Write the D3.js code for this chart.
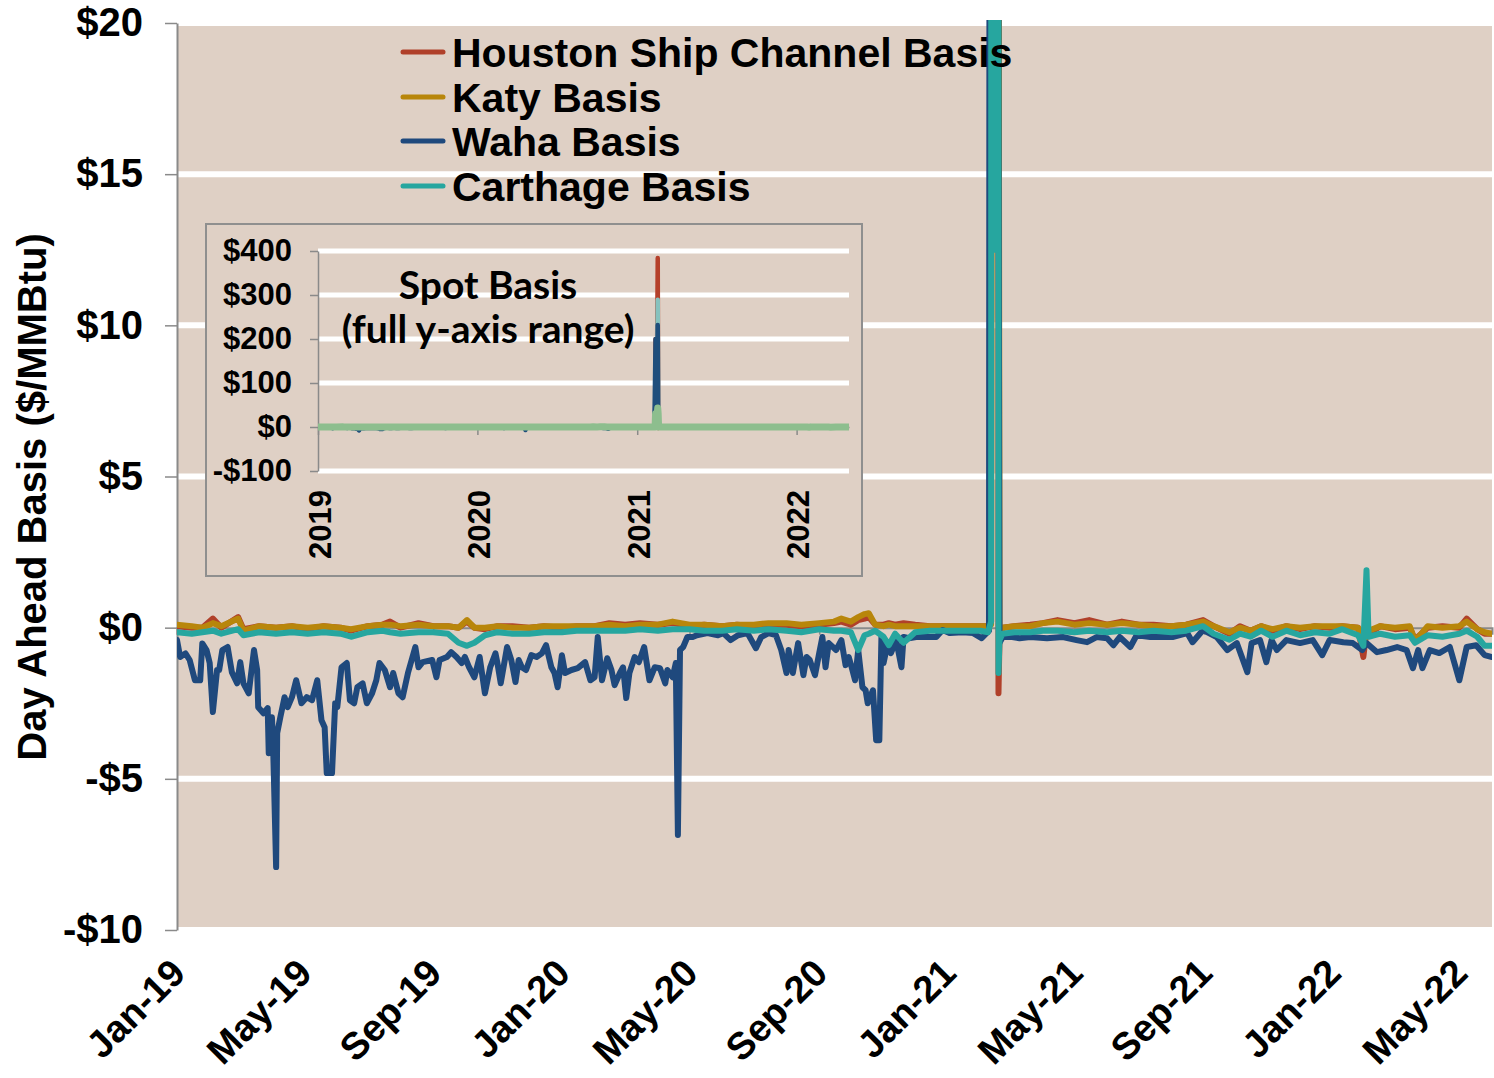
<!DOCTYPE html>
<html>
<head>
<meta charset="utf-8">
<script src="https://cdn.jsdelivr.net/npm/d3@7"></script>
<style>
  html, body { margin: 0; padding: 0; background: #ffffff; }
  svg { display: block; }
</style>
</head>
<body>
<svg id="chart" width="1494" height="1078"></svg>
<script>
// ---------------- DATA ----------------
const seriesNames = ["Houston Ship Channel Basis", "Katy Basis", "Waha Basis", "Carthage Basis"];
const yTicksMain = [-10, -5, 0, 5, 10, 15, 20];
const yTicksInset = [-100, 0, 100, 200, 300, 400];
const xTickDates = ["2019-01-01","2019-05-01","2019-09-01","2020-01-01","2020-05-01","2020-09-01",
                    "2021-01-01","2021-05-01","2021-09-01","2022-01-01","2022-05-01"];
const insetYearTicks = ["2019-01-01","2020-01-01","2021-01-01","2022-01-01"];

const wahaDates = [
"2019-01-01","2019-01-04","2019-01-09","2019-01-13","2019-01-18","2019-01-23","2019-01-25","2019-01-29",
"2019-02-01","2019-02-04","2019-02-08","2019-02-10","2019-02-13","2019-02-18","2019-02-22","2019-02-27",
"2019-03-02","2019-03-05","2019-03-10","2019-03-15","2019-03-18","2019-03-19","2019-03-24","2019-03-28",
"2019-03-29","2019-04-01","2019-04-02","2019-04-05","2019-04-06","2019-04-09","2019-04-13","2019-04-16",
"2019-04-20","2019-04-24","2019-04-29","2019-05-04","2019-05-09","2019-05-14","2019-05-18","2019-05-21",
"2019-05-23","2019-05-28","2019-05-31","2019-06-02","2019-06-06","2019-06-11","2019-06-14","2019-06-18",
"2019-06-21","2019-06-26","2019-06-30","2019-07-05","2019-07-09","2019-07-12","2019-07-17","2019-07-22",
"2019-07-25","2019-07-30","2019-08-03","2019-08-08","2019-08-15","2019-08-18","2019-08-22","2019-08-31",
"2019-09-04","2019-09-07","2019-09-14","2019-09-18","2019-09-23","2019-09-28","2019-10-01","2019-10-05",
"2019-10-10","2019-10-15","2019-10-20","2019-10-25","2019-10-30","2019-11-01","2019-11-04","2019-11-10",
"2019-11-14","2019-11-18","2019-11-21","2019-11-24","2019-11-28","2019-12-03","2019-12-08","2019-12-13",
"2019-12-17","2019-12-22","2019-12-25","2019-12-28","2020-01-01","2020-01-04","2020-01-10","2020-01-16",
"2020-01-23","2020-01-28","2020-02-01","2020-02-04","2020-02-08","2020-02-13","2020-02-17","2020-02-20",
"2020-02-25","2020-02-28","2020-03-02","2020-03-05","2020-03-10","2020-03-14","2020-03-19","2020-03-24",
"2020-03-29","2020-04-03","2020-04-08","2020-04-10","2020-04-15","2020-04-18","2020-04-20","2020-04-22",
"2020-04-25","2020-04-29","2020-05-04","2020-05-08","2020-05-18","2020-05-28","2020-06-02","2020-06-09",
"2020-06-16","2020-06-25","2020-07-03","2020-07-08","2020-07-15","2020-07-22","2020-07-27","2020-08-01",
"2020-08-03","2020-08-07","2020-08-12","2020-08-17","2020-08-20","2020-08-23","2020-08-28","2020-09-01",
"2020-09-04","2020-09-07","2020-09-10","2020-09-17","2020-09-22","2020-09-26","2020-09-29","2020-10-02",
"2020-10-05","2020-10-08","2020-10-12","2020-10-15","2020-10-17","2020-10-22","2020-10-25","2020-10-28",
"2020-10-30","2020-11-01","2020-11-05","2020-11-08","2020-11-13","2020-11-18","2020-11-20","2020-11-25",
"2020-12-02","2020-12-14","2020-12-21","2020-12-27","2021-01-03","2021-01-15","2021-01-25","2021-02-02",
"2021-02-09","2021-02-10","2021-02-12","2021-02-15","2021-02-17","2021-02-18","2021-02-19","2021-02-22",
"2021-03-03","2021-03-10","2021-03-20","2021-04-05","2021-04-20","2021-05-03","2021-05-13","2021-05-22",
"2021-06-01","2021-06-07","2021-06-13","2021-06-23","2021-06-29","2021-07-12","2021-07-21","2021-08-02",
"2021-08-16","2021-08-21","2021-08-31","2021-09-13","2021-09-23","2021-10-02","2021-10-12","2021-10-16",
"2021-10-24","2021-10-30","2021-11-04","2021-11-09","2021-11-18","2021-12-01","2021-12-13","2021-12-22",
"2021-12-29","2022-01-11","2022-01-20","2022-01-29","2022-02-02","2022-02-12","2022-02-21","2022-03-03",
"2022-03-12","2022-03-18","2022-03-23","2022-03-27","2022-04-03","2022-04-12","2022-04-22","2022-05-01",
"2022-05-08","2022-05-17","2022-05-25","2022-06-01"];
const wahaValues = [
-0.41,-0.97,-0.85,-1.07,-1.74,-1.74,-0.52,-0.74,
-1.17,-2.79,-1.40,-1.40,-0.74,-0.64,-1.47,-1.84,
-1.14,-1.84,-2.17,-0.74,-1.40,-2.63,-2.83,-2.66,
-4.15,-2.96,-3.72,-7.92,-3.49,-2.96,-2.30,-2.63,
-2.30,-1.74,-2.50,-2.30,-2.40,-1.74,-3.06,-3.29,
-4.81,-4.81,-2.50,-2.63,-1.31,-1.17,-2.40,-2.50,
-1.97,-1.84,-2.50,-2.17,-1.74,-1.17,-1.40,-1.97,
-1.50,-2.17,-2.30,-1.50,-0.64,-1.31,-1.14,-1.07,
-1.64,-1.07,-0.97,-0.81,-0.97,-1.17,-0.97,-1.31,
-1.64,-0.97,-2.17,-1.31,-0.85,-1.20,-1.84,-0.64,
-1.07,-1.80,-1.07,-1.31,-1.40,-0.91,-0.97,-0.85,
-0.58,-1.31,-1.50,-1.97,-0.91,-1.50,-1.40,-1.34,
-1.14,-1.74,-1.64,-0.31,-1.74,-1.01,-1.40,-1.90,
-1.50,-1.31,-2.33,-1.50,-0.97,-1.14,-0.64,-1.74,
-1.31,-1.34,-1.84,-1.40,-1.64,-1.17,-6.86,-0.74,
-0.64,-0.31,-0.31,-0.25,-0.18,-0.25,-0.18,-0.41,
-0.25,-0.18,-0.68,-0.31,-0.18,-0.25,-0.74,-1.50,
-0.74,-1.50,-0.51,-1.57,-0.97,-1.07,-1.57,-0.84,
-0.31,-1.31,-0.51,-0.74,-0.41,-1.24,-0.97,-1.34,
-1.74,-0.74,-1.97,-2.07,-2.50,-2.07,-3.72,-3.72,
-0.31,-1.17,-0.51,-0.84,-0.41,-1.31,-0.31,-0.35,
-0.31,-0.31,-0.31,-0.08,-0.18,-0.15,-0.18,-0.35,
-0.10,50,200,30,232,18,-0.50,-0.31,
-0.31,-0.35,-0.31,-0.35,-0.31,-0.41,-0.48,-0.31,
-0.35,-0.58,-0.31,-0.64,-0.25,-0.31,-0.31,-0.31,
-0.18,-0.48,-0.08,-0.31,-0.74,-0.51,-1.47,-0.51,
-0.41,-1.14,-0.41,-0.74,-0.41,-0.51,-0.41,-0.91,
-0.41,-0.48,-0.51,-0.74,-0.51,-0.81,-0.74,-0.64,
-0.74,-1.34,-0.74,-1.34,-0.74,-0.84,-0.64,-1.74,
-0.64,-0.58,-0.91,-0.97];

const baseDates = [
"2019-01-01","2019-01-15","2019-01-25","2019-02-04","2019-02-12","2019-02-28","2019-03-05","2019-03-20",
"2019-04-05","2019-04-20","2019-05-05","2019-05-20","2019-06-05","2019-06-15","2019-07-01","2019-07-15",
"2019-07-22","2019-08-01","2019-08-18","2019-09-01","2019-09-15","2019-09-25","2019-10-03","2019-10-10",
"2019-10-20","2019-11-01","2019-11-15","2019-12-01","2019-12-15","2020-01-01","2020-01-15","2020-02-01",
"2020-02-15","2020-03-01","2020-03-15","2020-04-01","2020-04-15","2020-05-01","2020-05-15","2020-06-01",
"2020-06-15","2020-07-01","2020-07-15","2020-08-01","2020-08-15","2020-09-01","2020-09-15","2020-09-22",
"2020-10-01","2020-10-08","2020-10-14","2020-10-18","2020-10-24","2020-11-01","2020-11-06","2020-11-12",
"2020-11-20","2020-12-01","2020-12-15","2021-01-01","2021-01-15","2021-02-01","2021-02-08","2021-02-11",
"2021-02-12","2021-02-15","2021-02-17","2021-02-18","2021-02-19","2021-02-22","2021-03-05","2021-03-20",
"2021-04-01","2021-04-15","2021-05-01","2021-05-15","2021-06-01","2021-06-15","2021-07-01","2021-07-15",
"2021-08-01","2021-08-15","2021-08-31","2021-09-10","2021-09-25","2021-10-05","2021-10-15","2021-10-25",
"2021-11-05","2021-11-18","2021-12-01","2021-12-15","2021-12-29","2022-01-10","2022-01-25","2022-01-30",
"2022-02-02","2022-02-04","2022-02-15","2022-03-01","2022-03-15","2022-03-20","2022-04-01","2022-04-15",
"2022-05-01","2022-05-08","2022-05-18","2022-05-25","2022-06-01"];
const hscValues = [
0.05,0.00,0.00,0.30,0.00,0.35,-0.05,0.05,
0.00,0.05,-0.05,0.05,0.00,-0.10,0.05,0.10,
0.20,0.00,0.15,0.05,0.05,0.00,0.20,0.00,
-0.05,0.05,0.05,0.00,0.05,0.00,0.05,0.05,
0.15,0.10,0.15,0.10,0.15,0.05,0.10,0.05,
0.10,0.05,0.10,0.10,0.05,0.10,0.15,0.20,
0.10,0.25,0.30,0.35,0.10,0.10,0.15,0.10,
0.15,0.10,0.05,0.05,0.05,0.05,0.05,0.20,
200,100,384,-2.17,-0.30,0.00,0.05,0.10,
0.15,0.25,0.15,0.25,0.10,0.20,0.10,0.10,
0.05,0.10,0.25,0.05,-0.20,0.05,-0.10,0.05,
-0.10,0.05,-0.05,0.05,0.00,0.05,0.00,-0.97,
-0.10,-0.20,0.05,-0.05,0.00,-0.40,0.00,0.05,
0.00,0.30,-0.05,-0.20,-0.20];
const katyValues = [
0.10,0.05,0.00,0.15,0.05,0.30,-0.10,0.05,
0.00,0.05,0.00,0.05,0.00,-0.05,0.05,0.10,
0.10,0.05,0.10,0.05,0.05,0.00,0.25,0.00,
0.00,0.05,0.00,0.00,0.05,0.05,0.05,0.05,
0.10,0.05,0.10,0.10,0.20,0.10,0.10,0.05,
0.10,0.10,0.15,0.15,0.10,0.15,0.20,0.30,
0.20,0.35,0.45,0.48,0.10,0.05,0.10,0.05,
0.05,0.05,0.05,0.05,0.05,0.05,0.05,0.10,
30,20,43,30,-0.20,0.00,0.05,0.05,
0.15,0.20,0.10,0.15,0.10,0.15,0.10,0.05,
0.05,0.10,0.20,0.05,-0.15,0.00,-0.10,0.05,
-0.05,0.05,0.00,0.05,0.05,0.05,0.00,-0.60,
-0.10,-0.10,0.05,0.00,0.05,-0.45,0.05,0.00,
0.05,0.20,-0.05,-0.15,-0.20];
const carthageValues = [
-0.15,-0.20,-0.15,-0.10,-0.20,-0.05,-0.25,-0.15,
-0.20,-0.15,-0.20,-0.15,-0.20,-0.30,-0.15,-0.10,
-0.15,-0.20,-0.15,-0.15,-0.20,-0.50,-0.60,-0.50,
-0.25,-0.15,-0.20,-0.20,-0.15,-0.15,-0.10,-0.10,
-0.10,-0.10,-0.05,-0.10,-0.05,-0.05,-0.10,-0.10,
-0.05,-0.10,-0.05,-0.10,-0.15,-0.05,-0.10,-0.10,
-0.15,-0.74,-0.25,-0.20,-0.10,-0.30,-0.58,-0.20,
-0.50,-0.15,-0.10,-0.10,-0.10,-0.10,-0.15,0.20,
150,12.5,289,-1.50,-0.40,-0.20,-0.15,-0.15,
-0.10,-0.10,-0.15,-0.10,-0.15,-0.10,-0.15,-0.10,
-0.15,-0.10,0.05,-0.20,-0.40,-0.20,-0.30,-0.10,
-0.30,-0.10,-0.25,-0.15,-0.20,-0.05,-0.25,-0.60,
1.90,-0.30,-0.20,-0.30,-0.25,-0.50,-0.25,-0.30,
-0.20,-0.10,-0.30,-0.60,-0.60];

// ---------------- SETUP ----------------
const parse = d3.timeParse("%Y-%m-%d");
const svg = d3.select("#chart");
const plot = {left: 177, right: 1492, top: 23, bottom: 930};
const BG = "#DFD0C5";
const AXIS = "#8a8a8a";
const ARIAL = '"Liberation Sans", Arial, sans-serif';
const CALIBRI = 'Lato, "Open Sans", sans-serif';
const colors = {hsc: "#B0402A", katy: "#B8860B", waha: "#1F497D", carthage: "#26A69F"};
const insetColors = {hsc: "#B5402A", katy: "#8DBE8E", waha: "#1F4E7C", carthage: "#86C2BE"};

const mk = (dates, vals) => dates.map((d, i) => ({date: parse(d), value: vals[i]}));
const series = [
  {key: "hsc", data: mk(baseDates, hscValues)},
  {key: "katy", data: mk(baseDates, katyValues)},
  {key: "waha", data: mk(wahaDates, wahaValues)},
  {key: "carthage", data: mk(baseDates, carthageValues)}
];

const boldText = sel => sel.style("font-family", ARIAL).style("font-weight", "bold").style("fill", "#000");

const x = d3.scaleTime().domain([parse("2019-01-01"), parse("2022-06-01")]).range([plot.left, plot.right]);
const y = d3.scaleLinear().domain([-10, 20]).range([plot.bottom, plot.top]);

// plot background
svg.append("rect").attr("x", plot.left).attr("y", plot.top)
  .attr("width", plot.right - plot.left).attr("height", plot.bottom - plot.top).attr("fill", BG);

// gridlines
svg.append("g").selectAll("line").data(yTicksMain.filter(v => v !== 0)).join("line")
  .attr("x1", plot.left).attr("x2", plot.right)
  .attr("y1", d => y(d)).attr("y2", d => y(d))
  .attr("stroke", "#ffffff").attr("stroke-width", 6);

// zero axis with ticks
const xAxis = d3.axisBottom(x).tickValues(xTickDates.map(parse)).tickSize(7).tickFormat("");
const gx = svg.append("g").attr("transform", `translate(0,${y(0)})`).call(xAxis);
gx.select(".domain").attr("stroke", AXIS).attr("stroke-width", 2);
gx.selectAll(".tick line").attr("stroke", AXIS).attr("stroke-width", 1.5);

// y axis
const yAxis = d3.axisLeft(y).tickValues(yTicksMain).tickSize(12).tickSizeOuter(0)
  .tickFormat(v => (v < 0 ? "-$" : "$") + Math.abs(v));
const gy = svg.append("g").attr("transform", `translate(${plot.left},0)`).call(yAxis);
gy.select(".domain").attr("stroke", AXIS).attr("stroke-width", 2);
gy.selectAll(".tick line").attr("stroke", AXIS).attr("stroke-width", 1.5);
gy.selectAll(".tick text").attr("x", -34).style("font-size", "40px").call(boldText);

// x labels (rotated)
svg.append("g").selectAll("text").data(xTickDates.map(parse)).join("text")
  .attr("transform", d => `translate(${x(d) + 1},${966}) rotate(-45)`)
  .attr("text-anchor", "end").attr("dy", "0.35em").style("font-size", "38px")
  .call(boldText)
  .text(d3.timeFormat("%b-%y"));

// y title
svg.append("text").attr("transform", `translate(32,497) rotate(-90)`)
  .attr("text-anchor", "middle").attr("dy", "0.35em").style("font-size", "40px")
  .call(boldText)
  .text("Day Ahead Basis ($/MMBtu)");

// clip
svg.append("clipPath").attr("id", "clipMain").append("rect")
  .attr("x", plot.left).attr("y", plot.top - 3).attr("width", plot.right - plot.left).attr("height", plot.bottom - plot.top + 3);

const line = d3.line().x(d => x(d.date)).y(d => y(d.value));
const gLines = svg.append("g").attr("clip-path", "url(#clipMain)");
series.forEach(s => {
  gLines.append("path").datum(s.data).attr("d", line)
    .attr("fill", "none").attr("stroke", colors[s.key]).attr("stroke-width", 6)
    .attr("stroke-linejoin", "round").attr("stroke-linecap", "round");
});

// legend
const legendKeys = ["hsc", "katy", "waha", "carthage"];
const legendY = [52, 97, 141, 186];
const lg = svg.append("g");
legendKeys.forEach((k, i) => {
  lg.append("line").attr("x1", 403).attr("x2", 443).attr("y1", legendY[i]).attr("y2", legendY[i])
    .attr("stroke", colors[k]).attr("stroke-width", 5).attr("stroke-linecap", "round");
  lg.append("text").attr("x", 452).attr("y", legendY[i]).attr("dy", "0.36em")
    .style("font-size", "41px").call(boldText).text(seriesNames[i]);
});

// ---------------- INSET ----------------
const inset = {left: 318, right: 849, top: 251, bottom: 471};
svg.append("rect").attr("x", 206).attr("y", 224).attr("width", 656).attr("height", 352)
  .attr("fill", BG).attr("stroke", "#8f8f8f").attr("stroke-width", 2);

const xi = d3.scaleTime().domain([parse("2019-01-01"), parse("2022-05-01")]).range([inset.left, inset.right]);
const yi = d3.scaleLinear().domain([-100, 400]).range([inset.bottom, inset.top]);

svg.append("g").selectAll("line").data(yTicksInset.filter(v => v !== 0)).join("line")
  .attr("x1", inset.left).attr("x2", inset.right)
  .attr("y1", d => yi(d)).attr("y2", d => yi(d))
  .attr("stroke", "#ffffff").attr("stroke-width", 5);

const xiAxis = d3.axisBottom(xi).tickValues(insetYearTicks.map(parse)).tickSize(8).tickSizeOuter(0).tickFormat("");
const gxi = svg.append("g").attr("transform", `translate(0,${yi(0)})`).call(xiAxis);
gxi.select(".domain").attr("stroke", AXIS).attr("stroke-width", 1.5);
gxi.selectAll(".tick line").attr("stroke", AXIS).attr("stroke-width", 1.5);

const yiAxis = d3.axisLeft(yi).tickValues(yTicksInset).tickSize(8).tickSizeOuter(0)
  .tickFormat(v => (v < 0 ? "-$" : "$") + Math.abs(v));
const gyi = svg.append("g").attr("transform", `translate(${inset.left},0)`).call(yiAxis);
gyi.select(".domain").attr("stroke", AXIS).attr("stroke-width", 1.5);
gyi.selectAll(".tick line").attr("stroke", AXIS).attr("stroke-width", 1.5);
gyi.selectAll(".tick text").attr("x", -26).style("font-size", "31px").call(boldText);

svg.append("g").selectAll("text").data(insetYearTicks.map(parse)).join("text")
  .attr("transform", d => `translate(${xi(d) + 2},490) rotate(-90)`)
  .attr("text-anchor", "end").attr("dy", "0.35em").style("font-size", "31px")
  .call(boldText)
  .text(d3.timeFormat("%Y"));

svg.append("clipPath").attr("id", "clipInset").append("rect")
  .attr("x", inset.left).attr("y", inset.top - 5).attr("width", inset.right - inset.left).attr("height", inset.bottom - inset.top + 5);
const linei = d3.line().x(d => xi(d.date)).y(d => yi(d.value));
const gi = svg.append("g").attr("clip-path", "url(#clipInset)");
const insetOrder = ["hsc", "carthage", "waha", "katy"];
const insetWidth = {hsc: 4.5, carthage: 4.5, waha: 4.5, katy: 7};
insetOrder.forEach(k => {
  const s = series.find(t => t.key === k);
  gi.append("path").datum(s.data).attr("d", linei)
    .attr("fill", "none").attr("stroke", insetColors[k]).attr("stroke-width", insetWidth[k])
    .attr("stroke-linejoin", "round").attr("stroke-linecap", "round");
});

const titleLines = ["Spot Basis", "(full y-axis range)"];
const titleY = [299, 343];
titleLines.forEach((t, i) => {
  svg.append("text").attr("x", 488).attr("y", titleY[i]).attr("text-anchor", "middle")
    .style("font-family", CALIBRI).style("font-weight", "bold").style("font-size", "39px").style("fill", "#000")
    .text(t);
});
</script>
</body>
</html>
